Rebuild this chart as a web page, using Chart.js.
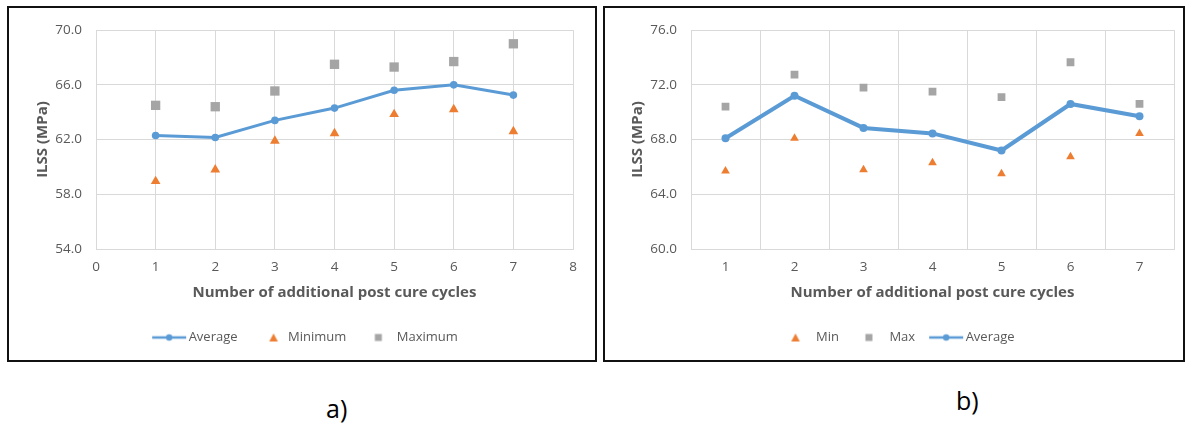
<!DOCTYPE html>
<html>
<head>
<meta charset="utf-8">
<script src="https://cdn.jsdelivr.net/npm/chart.js@4.4.1/dist/chart.umd.min.js"></script>
<style>
  html, body { margin: 0; padding: 0; background: #fff; width: 1185px; height: 423px; overflow: hidden; }
  .panel { position: absolute; top: 6px; height: 352px; border: 2px solid #111; background: #fff; }
  #panelA { left: 7px; width: 586px; }
  #panelB { left: 603px; width: 578px; }
  .panel canvas { display: block; }
  .cap { position: absolute; font-family: 'Open Sans', sans-serif; font-size: 25px; line-height: 1; color: #000; }
</style>
</head>
<body>
<div class="panel" id="panelA"><canvas id="chartA" width="586" height="352"></canvas></div>
<div class="panel" id="panelB"><canvas id="chartB" width="578" height="352"></canvas></div>
<div class="cap" style="left:326px; top:396px;">a)</div>
<div class="cap" style="left:956px; top:388px;">b)</div>

<script>
// ---- data ----
const cycles = [1, 2, 3, 4, 5, 6, 7];

// panel a: ILSS vs. additional post cure cycles
const aAverage = [62.3, 62.15, 63.4, 64.3, 65.6, 66.0, 65.25];
const aMinimum = [58.95, 59.8, 61.9, 62.45, 63.85, 64.2, 62.6];
const aMaximum = [64.5, 64.4, 65.55, 67.5, 67.3, 67.7, 69.0];
const aXRange = [0, 8];
const aYTicks = [54, 58, 62, 66, 70];

// panel b
const bMin = [65.7, 68.1, 65.8, 66.3, 65.5, 66.75, 68.45];
const bMax = [70.4, 72.75, 71.8, 71.5, 71.1, 73.65, 70.6];
const bAverage = [68.1, 71.2, 68.85, 68.45, 67.2, 70.6, 69.7];
const bYTicks = [60, 64, 68, 72, 76];

const yTitle = 'ILSS (MPa)';
const xTitle = 'Number of additional post cure cycles';

// ---- styles ----
const BLUE = '#5B9BD5', ORANGE = '#ED7D31', GREY = '#A5A5A5';
const TEXT = '#595959', GRID = '#D9D9D9';
const FONT = "'Open Sans', sans-serif";

// small legend glyphs drawn onto offscreen canvases
function iconCanvas(draw) {
  const c = document.createElement('canvas');
  c.width = 46; c.height = 12;
  draw(c.getContext('2d'));
  return c;
}
const lineIcon = () => iconCanvas(ctx => {
  ctx.strokeStyle = BLUE; ctx.lineWidth = 2.5;
  ctx.beginPath(); ctx.moveTo(11, 6); ctx.lineTo(45, 6); ctx.stroke();
  ctx.fillStyle = BLUE; ctx.beginPath(); ctx.arc(28, 6, 3.2, 0, Math.PI * 2); ctx.fill();
});
const triIcon = cx => iconCanvas(ctx => {
  ctx.fillStyle = ORANGE;
  ctx.beginPath(); ctx.moveTo(cx, 2); ctx.lineTo(cx + 4.3, 10); ctx.lineTo(cx - 4.3, 10); ctx.closePath(); ctx.fill();
});
const sqIcon = cx => iconCanvas(ctx => {
  ctx.fillStyle = GREY; ctx.fillRect(cx - 3.5, 2.5, 7, 7);
});

function legendOptions(icons) {
  return {
    position: 'bottom',
    labels: {
      usePointStyle: true,
      pointStyleWidth: 36,
      padding: 8,
      color: TEXT,
      font: { family: FONT, size: 13 },
      generateLabels: chart => chart.data.datasets.map((ds, i) => ({
        text: ds.label,
        pointStyle: icons[i],
        fillStyle: 'transparent',
        strokeStyle: 'transparent',
        lineWidth: 0,
        fontColor: TEXT,
        hidden: false,
        datasetIndex: i
      }))
    }
  };
}

const tickFont = { family: FONT, size: 13.5 };
const titleFont = { family: FONT, size: 15, weight: 'bold' };

function yAxis(ticks, titlePad, width) {
  return {
    type: 'linear',
    position: 'left',
    min: ticks[0],
    max: ticks[ticks.length - 1],
    afterBuildTicks: s => { s.ticks = ticks.map(v => ({ value: v })); },
    ticks: { padding: 14, color: TEXT, font: tickFont, callback: v => Number(v).toFixed(1) },
    grid: { color: GRID, drawTicks: false, lineWidth: 1 },
    border: { display: true, color: GRID },
    title: { display: true, text: yTitle, color: TEXT, font: titleFont, padding: { top: titlePad, bottom: 0 } },
    afterFit: s => { s.width = width; }
  };
}

const xTitleOpts = { display: true, text: xTitle, color: TEXT, font: titleFont, padding: { top: 0, bottom: 21 } };

function spacer(width) {
  return {
    type: 'linear', position: 'right', display: true,
    grid: { display: false }, border: { display: false }, ticks: { display: false },
    afterFit: s => { s.width = width; }
  };
}

const common = {
  responsive: false,
  devicePixelRatio: 1,
  animation: false,
  events: [],
  layout: { padding: { top: 18, left: 0, right: 0, bottom: 6 } },
  plugins: { tooltip: { enabled: false } }
};

// ---- panel a ----
new Chart(document.getElementById('chartA'), {
  type: 'scatter',
  data: {
    datasets: [
      { label: 'Average', data: cycles.map((c, i) => ({ x: c, y: aAverage[i] })), showLine: true,
        borderColor: BLUE, backgroundColor: BLUE, borderWidth: 3, pointRadius: 3.8, pointBorderWidth: 0, pointStyle: 'circle' },
      { label: 'Minimum', data: cycles.map((c, i) => ({ x: c, y: aMinimum[i] })), showLine: false,
        borderColor: ORANGE, backgroundColor: ORANGE, pointRadius: 5.6, pointBorderWidth: 0, pointStyle: 'triangle' },
      { label: 'Maximum', data: cycles.map((c, i) => ({ x: c, y: aMaximum[i] })), showLine: false,
        borderColor: GREY, backgroundColor: GREY, pointRadius: 6.6, pointBorderWidth: 0, pointStyle: 'rect' }
    ]
  },
  options: Object.assign({}, common, {
    scales: {
      x: {
        type: 'linear', min: aXRange[0], max: aXRange[1],
        ticks: { stepSize: 1, padding: 9.9, color: TEXT, font: tickFont },
        grid: { color: GRID, drawTicks: false },
        border: { display: true, color: GRID },
        title: xTitleOpts,
        afterFit: s => { s.height = 74; }
      },
      y: yAxis(aYTicks, 25, 87),
      yr: spacer(22)
    },
    plugins: Object.assign({}, common.plugins, { legend: legendOptions([lineIcon(), triIcon(33), sqIcon(29)]) })
  })
});

// ---- panel b ----
new Chart(document.getElementById('chartB'), {
  type: 'line',
  data: {
    labels: cycles.map(String),
    datasets: [
      { label: 'Min', data: bMin, showLine: false,
        borderColor: ORANGE, backgroundColor: ORANGE, pointRadius: 5, pointBorderWidth: 0, pointStyle: 'triangle' },
      { label: 'Max', data: bMax, showLine: false,
        borderColor: GREY, backgroundColor: GREY, pointRadius: 5.5, pointBorderWidth: 0, pointStyle: 'rect' },
      { label: 'Average', data: bAverage, showLine: true,
        borderColor: BLUE, backgroundColor: BLUE, borderWidth: 4, pointRadius: 4, pointBorderWidth: 0, pointStyle: 'circle' }
    ]
  },
  options: Object.assign({}, common, {
    scales: {
      x: {
        type: 'category', offset: true,
        ticks: { padding: 9.9, color: TEXT, font: tickFont },
        grid: { color: GRID, drawTicks: false, offset: true },
        border: { display: true, color: GRID },
        title: xTitleOpts,
        afterFit: s => { s.height = 74; }
      },
      y: yAxis(bYTicks, 23.5, 86),
      yr: spacer(9)
    },
    plugins: Object.assign({}, common.plugins, { legend: legendOptions([triIcon(27), sqIcon(27), lineIcon()]) })
  })
});
</script>
</body>
</html>
